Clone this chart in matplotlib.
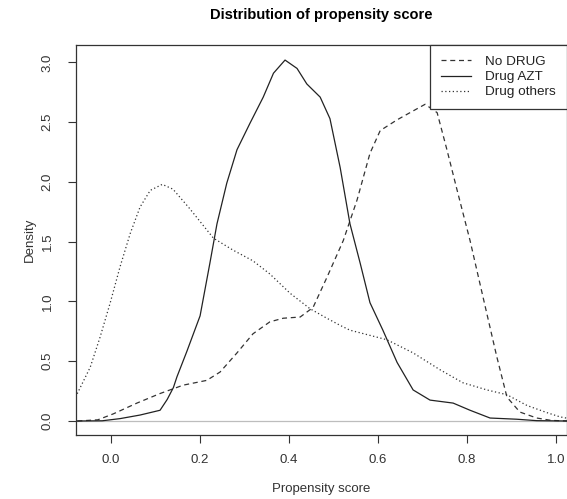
import matplotlib
matplotlib.use("Agg")
import matplotlib.pyplot as plt
from matplotlib.lines import Line2D

plt.rcParams['font.family'] = ['Liberation Sans', 'DejaVu Sans']

# density curves
azt_x = [-0.08, -0.02, 0.02, 0.065, 0.11, 0.126, 0.14, 0.148, 0.17, 0.2, 0.222, 0.238, 0.26,
         0.283, 0.312, 0.342, 0.365, 0.391, 0.418, 0.44, 0.47, 0.492, 0.515, 0.537, 0.56,
         0.582, 0.611, 0.643, 0.679, 0.717, 0.769, 0.807, 0.852, 0.912, 0.957, 1.03]
azt_y = [0.0, 0.002, 0.02, 0.05, 0.09, 0.18, 0.28, 0.37, 0.58, 0.88, 1.32, 1.65, 1.99,
         2.27, 2.49, 2.71, 2.91, 3.02, 2.95, 2.82, 2.71, 2.53, 2.12, 1.65, 1.32,
         0.99, 0.76, 0.49, 0.26, 0.175, 0.15, 0.09, 0.025, 0.015, 0.003, 0.0]

nodrug_x = [-0.076, -0.03, 0.005, 0.058, 0.11, 0.162, 0.215, 0.245, 0.283, 0.319, 0.357,
            0.387, 0.425, 0.454, 0.485, 0.522, 0.553, 0.582, 0.605, 0.643, 0.672, 0.706,
            0.733, 0.755, 0.778, 0.807, 0.836, 0.867, 0.89, 0.919, 0.957, 0.99, 1.03]
nodrug_y = [0.0, 0.01, 0.06, 0.15, 0.23, 0.3, 0.34, 0.41, 0.57, 0.73, 0.83,
            0.86, 0.87, 0.95, 1.2, 1.51, 1.85, 2.24, 2.43, 2.52, 2.58, 2.65,
            2.58, 2.27, 1.93, 1.51, 1.04, 0.54, 0.2, 0.075, 0.025, 0.005, 0.0]

others_x = [-0.08, -0.047, -0.025, -0.002, 0.02, 0.043, 0.065, 0.088, 0.115, 0.139, 0.176,
            0.23, 0.274, 0.319, 0.357, 0.402, 0.447, 0.485, 0.515, 0.537, 0.62, 0.679,
            0.739, 0.791, 0.845, 0.89, 0.935, 0.98, 1.009, 1.03]
others_y = [0.2, 0.45, 0.7, 0.99, 1.29, 1.57, 1.79, 1.93, 1.98, 1.94, 1.78,
            1.53, 1.43, 1.34, 1.23, 1.07, 0.94, 0.86, 0.8, 0.76, 0.68, 0.57,
            0.43, 0.32, 0.26, 0.22, 0.13, 0.07, 0.035, 0.02]

labels = ["No DRUG", "Drug AZT", "Drug others"]
xticks = [0.0, 0.2, 0.4, 0.6, 0.8, 1.0]
yticks = [0.0, 0.5, 1.0, 1.5, 2.0, 2.5, 3.0]

fig = plt.figure(figsize=(5.67, 4.99), dpi=100)
ax = fig.add_axes([76/567, 1 - 435/499, (567 - 76)/567, (435 - 45)/499])

ax.axhline(0, color="#bdbdbd", lw=0.9, zorder=1)
ax.plot(nodrug_x, nodrug_y, color="#333333", lw=0.9, dashes=(4, 3))
ax.plot(azt_x, azt_y, color="#222222", lw=0.9)
ax.plot(others_x, others_y, color="#333333", lw=0.9, dashes=(1, 2))

ax.set_xlim(-0.079, 1.025)
ax.set_ylim(-0.117, 3.146)
ax.set_xticks(xticks)
ax.set_xticklabels(["%.1f" % v for v in xticks])
ax.set_yticks(yticks)
ax.set_yticklabels(["%.1f" % v for v in yticks], rotation=90, va="center")
ax.tick_params(direction="out", length=6, width=0.8, colors="#333333",
               labelsize=9.5, labelcolor="#333333", pad=8)
ax.tick_params(axis="y", pad=10)
for s in ax.spines.values():
    s.set_color("#333333")
    s.set_linewidth(0.9)

ax.set_xlabel("Propensity score", fontsize=9.5, color="#333333", labelpad=12)
ax.set_ylabel("Density", fontsize=9.5, color="#333333", labelpad=4)
ax.set_title("Distribution of propensity score", fontsize=10.5, fontweight="bold",
             pad=19)

handles = [Line2D([], [], color="#333333", lw=0.9, dashes=(4, 3)),
           Line2D([], [], color="#222222", lw=0.9),
           Line2D([], [], color="#333333", lw=0.9, dashes=(1, 2))]
leg = ax.legend(handles, labels, loc="upper right", borderaxespad=0, fancybox=False,
                framealpha=1, edgecolor="#333333", fontsize=9.7, handlelength=2.2,
                labelspacing=0.2, borderpad=0.8, handletextpad=1.1)
leg.get_frame().set_linewidth(0.9)
for t in leg.get_texts():
    t.set_color("#222222")

fig.savefig("out.png", dpi=100)
